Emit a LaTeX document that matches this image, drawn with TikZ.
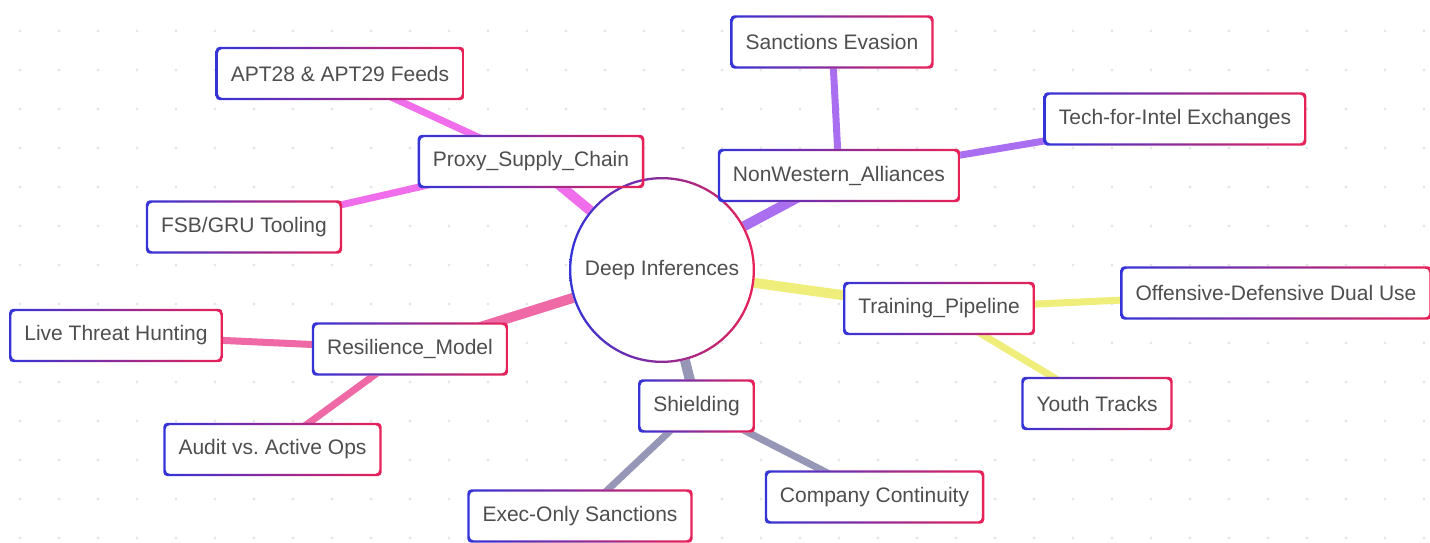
\documentclass[tikz,border=0pt]{standalone}
\usepackage{fontspec}
\setmainfont{Liberation Sans}
\usetikzlibrary{positioning,backgrounds}

\definecolor{ringblue}{RGB}{52,52,216}
\definecolor{ringred}{RGB}{232,34,88}
\definecolor{textgray}{RGB}{78,78,78}
\definecolor{dotgray}{RGB}{230,230,230}
\definecolor{proxycol}{RGB}{240,110,235}
\definecolor{allycol}{RGB}{170,110,240}
\definecolor{traincol}{RGB}{240,238,122}
\definecolor{rescol}{RGB}{238,105,165}
\definecolor{shieldcol}{RGB}{150,150,182}

\begin{document}
\begin{tikzpicture}[x=1pt,y=1pt,on grid,
	topic/.style={rectangle, rounded corners=4pt, fill=white, text=textgray,
		font=\fontsize{21pt}{25pt}\selectfont,
		minimum height=53pt, inner xsep=15pt, inner ysep=0pt},
	hubnode/.style={circle, fill=white, text=textgray,
		font=\fontsize{21pt}{25pt}\selectfont,
		minimum size=186pt, inner sep=0pt},
	link/.style={line width=10pt, draw=#1},
	twig/.style={line width=7pt, draw=#1}]

\useasboundingbox (0,0) rectangle (1430,542);

% Dotted backdrop
\begin{scope}[on background layer]
\foreach \i in {0,...,36}
	\foreach \j in {0,...,13}
		\fill[dotgray] (20+39*\i, 511-39*\j) circle (1.6);
\end{scope}

% Centre
\node[hubnode] (hub) at (662,272) {Deep Inferences};

%%%%%%%%%%%%%%%%%%%
% Proxy supply chain

\node[topic, above left= 108.5pt and 131pt of hub] (proxy) {Proxy\_Supply\_Chain};
\node[topic, above left= 88pt and 191pt of proxy] (apt) {APT28 \& APT29 Feeds};
\node[topic, below left= 65.5pt and 287pt of proxy] (fsb) {FSB/GRU Tooling};

%%%%%%%%%%%%%%%%%%%
% Alliances

\node[topic, above right= 94.5pt and 177pt of hub] (ally) {NonWestern\_Alliances};
\node[topic, above left= 133.5pt and 7pt of ally] (evasion) {Sanctions Evasion};
\node[topic, above right= 56.5pt and 336pt of ally] (techintel) {Tech-for-Intel Exchanges};

%%%%%%%%%%%%%%%%%%%
% Training

\node[topic, below right= 38.5pt and 277pt of hub] (train) {Training\_Pipeline};
\node[topic, above right= 15.5pt and 337pt of train] (dualuse) {Offensive-Defensive Dual Use};
\node[topic, below right= 95pt and 158pt of train] (youth) {Youth Tracks};

%%%%%%%%%%%%%%%%%%%
% Resilience

\node[topic, below left= 79pt and 252pt of hub] (resil) {Resilience\_Model};
\node[topic, above left= 13.5pt and 294pt of resil] (hunting) {Live Threat Hunting};
\node[topic, below left= 100.5pt and 137.5pt of resil] (audit) {Audit vs.\ Active Ops};

%%%%%%%%%%%%%%%%%%%
% Shielding

\node[topic, below right= 136pt and 34.5pt of hub] (shield) {Shielding};
\node[topic, below left= 110pt and 116.5pt of shield] (execonly) {Exec-Only Sanctions};
\node[topic, below right= 91pt and 178pt of shield] (continuity) {Company Continuity};

% Branches
\begin{scope}[on background layer]
\draw[link=proxycol] (hub.center) -- (proxy.center);
\draw[twig=proxycol] (proxy.center) -- (apt.center);
\draw[twig=proxycol] (proxy.center) -- (fsb.center);

\draw[link=allycol] (hub.center) -- (ally.center);
\draw[twig=allycol] (ally.center) -- (evasion.center);
\draw[twig=allycol] (ally.center) -- (techintel.center);

\draw[link=traincol] (hub.center) -- (train.center);
\draw[twig=traincol] (train.center) -- (dualuse.center);
\draw[twig=traincol] (train.center) -- (youth.center);

\draw[link=rescol] (hub.center) -- (resil.center);
\draw[twig=rescol] (resil.center) -- (hunting.center);
\draw[twig=rescol] (resil.center) -- (audit.center);

\draw[link=shieldcol] (hub.center) -- (shield.center);
\draw[twig=shieldcol] (shield.center) -- (execonly.center);
\draw[twig=shieldcol] (shield.center) -- (continuity.center);
\end{scope}

% Blue-to-red outlines
\shade[left color=ringblue, right color=ringred, even odd rule]
	(hub.center) circle (93) (hub.center) circle (90.7);
\foreach \n in {proxy,apt,fsb,ally,evasion,techintel,train,dualuse,youth,
		resil,hunting,audit,shield,execonly,continuity}
	\shade[left color=ringblue, right color=ringred, even odd rule, rounded corners=4pt]
		(\n.south west) rectangle (\n.north east)
		([shift={(2.3,2.3)}]\n.south west) rectangle ([shift={(-2.3,-2.3)}]\n.north east);

\end{tikzpicture}
\end{document}
